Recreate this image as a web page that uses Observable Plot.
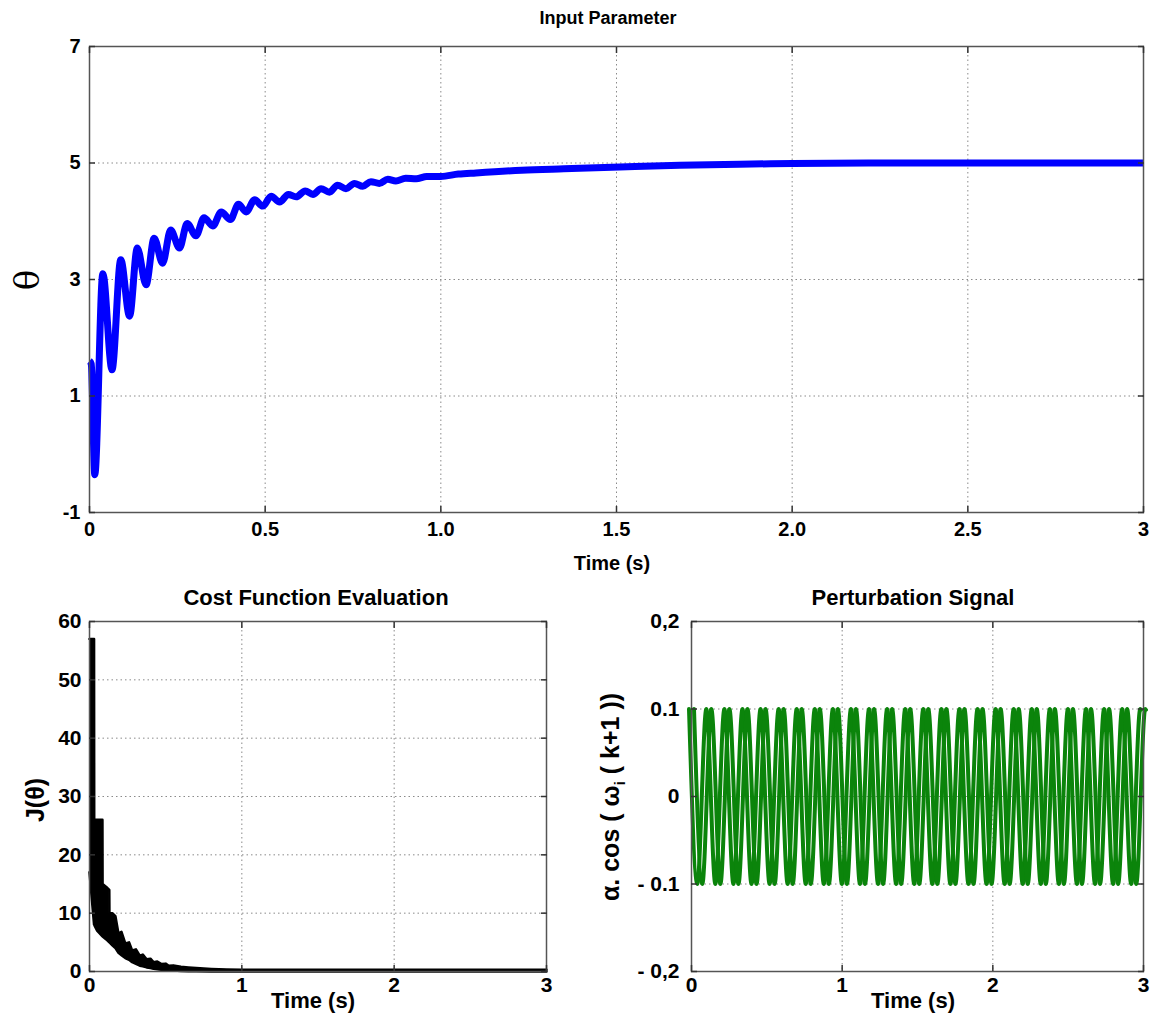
<!DOCTYPE html>
<html><head><meta charset="utf-8">
<script src="https://cdn.jsdelivr.net/npm/d3@7"></script>
<script src="https://cdn.jsdelivr.net/npm/@observablehq/plot@0.6"></script>
<style>
body{margin:0;background:#fff;}
#wrap{position:relative;width:1156px;height:1021px;font-family:"Liberation Sans",Arial,sans-serif;font-weight:bold;color:#000;overflow:hidden;background:#fff;}
.panel{position:absolute;}
.t{position:absolute;transform:translate(-50%,-50%);white-space:nowrap;font-weight:bold;line-height:1;}
.r{transform:translate(-50%,-50%) rotate(-90deg);}
</style></head>
<body><div id="wrap"></div>
<script>
// ---------- Input Parameter (theta) ----------
const thetaT = [0, 0.005, 0.015, 0.038, 0.064, 0.089, 0.114, 0.136, 0.161, 0.184, 0.208, 0.231, 0.256, 0.278, 0.303, 0.326, 0.351, 0.375, 0.401, 0.424, 0.446, 0.470, 0.493, 0.517, 0.541, 0.566, 0.588, 0.614, 0.636, 0.659, 0.683, 0.706, 0.730, 0.754, 0.778, 0.801, 0.825, 0.849, 0.872, 0.90, 0.93, 0.96, 1.00, 1.05, 1.10, 1.23, 1.35, 1.51, 1.68, 1.85, 2.00, 2.30, 2.60, 3.00];
const thetaV = [1.6, 1.55, -0.35, 3.1, 1.45, 3.34, 2.37, 3.54, 2.91, 3.71, 3.28, 3.85, 3.54, 3.96, 3.75, 4.06, 3.92, 4.16, 4.03, 4.29, 4.16, 4.37, 4.26, 4.43, 4.33, 4.46, 4.42, 4.52, 4.46, 4.56, 4.50, 4.62, 4.56, 4.65, 4.60, 4.68, 4.65, 4.72, 4.69, 4.74, 4.73, 4.77, 4.77, 4.81, 4.83, 4.875, 4.90, 4.93, 4.96, 4.98, 4.99, 5.0, 5.0, 5.0];
const topXTicks = [0, 0.5, 1, 1.5, 2, 2.5, 3];
const topXLabels = ["0", "0.5", "1.0", "1.5", "2.0", "2.5", "3"];
const topYTicks = [-1, 1, 3, 5, 7];
const topYLabels = ["-1", "1", "3", "5", "7"];

// ---------- Cost Function Evaluation (envelope of the dense trace) ----------
const costT  = [0, 0.03, 0.031, 0.05, 0.085, 0.086, 0.11, 0.13, 0.131, 0.15, 0.17, 0.19, 0.21, 0.235, 0.26, 0.28, 0.305, 0.33, 0.35, 0.375, 0.4, 0.42, 0.445, 0.47, 0.5, 0.52, 0.55, 0.6, 0.65, 0.7, 0.8, 0.9, 1.0, 1.5, 2.0, 2.5, 3.0];
const costHi = [57, 57, 26, 26, 26, 15, 14.5, 14, 10, 10, 9.5, 6.5, 6.8, 4.8, 5.0, 3.6, 3.8, 2.7, 2.9, 2.1, 2.2, 1.6, 1.7, 1.3, 1.35, 1.0, 1.05, 0.8, 0.7, 0.6, 0.45, 0.35, 0.3, 0.3, 0.3, 0.3, 0.3];
const costLo = [17, 8, 8, 7, 6, 6, 5.5, 5, 5, 4.5, 4, 3.2, 2.8, 2.3, 2.0, 1.6, 1.3, 1.0, 0.9, 0.7, 0.6, 0.45, 0.4, 0.3, 0.25, 0.2, 0.15, 0.1, 0.05, 0.03, 0, 0, 0, 0, 0, 0, 0];
const blXTicks = [0, 1, 2, 3];
const blXLabels = ["0", "1", "2", "3"];
const blYTicks = [0, 10, 20, 30, 40, 50, 60];
const blYLabels = ["0", "10", "20", "30", "40", "50", "60"];

// ---------- Perturbation Signal (extrema of the oscillation) ----------
const pertT = [0, 0.055, 0.115, 0.175, 0.235, 0.295, 0.355, 0.415, 0.475, 0.535, 0.595, 0.655, 0.715, 0.775, 0.835, 0.895, 0.955, 1.015, 1.075, 1.135, 1.195, 1.255, 1.315, 1.375, 1.435, 1.495, 1.555, 1.615, 1.675, 1.735, 1.795, 1.855, 1.915, 1.975, 2.035, 2.095, 2.155, 2.215, 2.275, 2.335, 2.395, 2.455, 2.515, 2.575, 2.635, 2.695, 2.755, 2.815, 2.875, 2.935, 2.995, 3.0];
const pertV = [0.1, -0.1, 0.1, -0.1, 0.1, -0.1, 0.1, -0.1, 0.1, -0.1, 0.1, -0.1, 0.1, -0.1, 0.1, -0.1, 0.1, -0.1, 0.1, -0.1, 0.1, -0.1, 0.1, -0.1, 0.1, -0.1, 0.1, -0.1, 0.1, -0.1, 0.1, -0.1, 0.1, -0.1, 0.1, -0.1, 0.1, -0.1, 0.1, -0.1, 0.1, -0.1, 0.1, -0.1, 0.1, -0.1, 0.1, -0.1, 0.1, -0.1, 0.1, 0.099];
const brXTicks = [0, 1, 2, 3];
const brXLabels = ["0", "1", "2", "3"];
const brYTicks = [-0.2, -0.1, 0, 0.1, 0.2];
const brYLabels = ["- 0,2", "- 0.1", "0", "0.1", "0,2"];

const thetaData = thetaT.map((t, i) => ({t, v: thetaV[i]}));
const costData = costT.map((t, i) => ({t, hi: costHi[i], lo: costLo[i]}));
const pertData = pertT.map((t, i) => ({t, v: pertV[i]}));

const wrap = document.getElementById("wrap");

function panel(o) {
  const xf = new Map(o.xTicks.map((t, i) => [t, o.xLabels[i]]));
  const yf = new Map(o.yTicks.map((t, i) => [t, o.yLabels[i]]));
  const grid = {stroke: "#8a8a8a", strokeOpacity: 1, strokeWidth: 1, strokeDasharray: "1.5,3"};
  const fs = o.fontSize;
  return Plot.plot({
    width: o.width, height: o.height,
    marginLeft: o.ml, marginRight: o.mr, marginTop: o.mt, marginBottom: o.mb,
    style: {fontFamily: "'Liberation Sans', Arial, sans-serif", fontWeight: "bold", fontSize: fs + "px", color: "#000", background: "transparent", overflow: "visible"},
    x: {domain: o.xDomain},
    y: {domain: o.yDomain},
    marks: [
      Plot.gridX(o.xTicks, grid),
      Plot.gridY(o.yTicks, grid),
      ...o.marks,
      Plot.frame({stroke: "#555", strokeWidth: 1.5}),
      Plot.axisX(o.xTicks, {anchor: "bottom", tickSize: 0, tickPadding: o.xPad, tickFormat: d => xf.get(d), label: null, fontSize: fs, fontWeight: "bold"}),
      Plot.axisY(o.yTicks, {anchor: "left", tickSize: 0, tickPadding: o.yPad, tickFormat: d => yf.get(d), label: null, fontSize: fs, fontWeight: "bold"}),
      Plot.axisX(o.xTicks, {anchor: "bottom", tickSize: -6, tickFormat: () => "", label: null, stroke: "#333", strokeWidth: 1.5}),
      Plot.axisX(o.xTicks, {anchor: "top", tickSize: -6, tickFormat: () => "", label: null, stroke: "#333", strokeWidth: 1.5}),
      Plot.axisY(o.yTicks, {anchor: "left", tickSize: -6, tickFormat: () => "", label: null, stroke: "#333", strokeWidth: 1.5}),
      Plot.axisY(o.yTicks, {anchor: "right", tickSize: -6, tickFormat: () => "", label: null, stroke: "#333", strokeWidth: 1.5})
    ]
  });
}

function place(node, left, top) {
  const d = document.createElement("div");
  d.className = "panel";
  d.style.left = left + "px";
  d.style.top = top + "px";
  d.appendChild(node);
  wrap.appendChild(d);
}
function label(html, x, y, size, extra) {
  const d = document.createElement("div");
  d.className = "t" + (extra && extra.rot ? " r" : "");
  d.style.left = x + "px";
  d.style.top = y + "px";
  d.style.fontSize = size + "px";
  if (extra && extra.family) d.style.fontFamily = extra.family;
  if (extra && extra.weight) d.style.fontWeight = extra.weight;
  d.innerHTML = html;
  wrap.appendChild(d);
}

// Top panel
place(panel({
  width: 1156, height: 545, ml: 89, mr: 13, mt: 46, mb: 33,
  xDomain: [0, 3], yDomain: [-1, 7],
  xTicks: topXTicks, xLabels: topXLabels, yTicks: topYTicks, yLabels: topYLabels,
  fontSize: 20, xPad: 9, yPad: 9,
  marks: [
    Plot.line(thetaData, {x: "t", y: "v", stroke: "#0000ff", strokeWidth: 7, curve: "monotone-x", strokeLinejoin: "round", strokeLinecap: "butt"})
  ]
}), 0, 0);

// Bottom-left panel
place(panel({
  width: 578, height: 420, ml: 89, mr: 32, mt: 41, mb: 29,
  xDomain: [0, 3], yDomain: [0, 60],
  xTicks: blXTicks, xLabels: blXLabels, yTicks: blYTicks, yLabels: blYLabels,
  fontSize: 21, xPad: 6, yPad: 8,
  marks: [
    Plot.areaY(costData, {x: "t", y1: "lo", y2: "hi", fill: "#000"}),
    Plot.line(costData, {x: "t", y: "hi", stroke: "#000", strokeWidth: 2.5}),
    Plot.line(costData, {x: "t", y: "lo", stroke: "#000", strokeWidth: 2.5})
  ]
}), 0, 580);

// Bottom-right panel
place(panel({
  width: 578, height: 420, ml: 113, mr: 13, mt: 41, mb: 29,
  xDomain: [0, 3], yDomain: [-0.2, 0.2],
  xTicks: brXTicks, xLabels: brXLabels, yTicks: brYTicks, yLabels: brYLabels,
  fontSize: 21, xPad: 6, yPad: 12,
  marks: [
    Plot.line(pertData, {x: "t", y: "v", stroke: "#0b840b", strokeWidth: 4, curve: "monotone-x", dx: -2.5}),
    Plot.line(pertData, {x: "t", y: "v", stroke: "#0b840b", strokeWidth: 4, curve: "monotone-x", dx: 2.5})
  ]
}), 578, 580);

// Titles and axis labels
label("Input Parameter", 608, 18, 18);
label("Time (s)", 612, 563, 20);
label("θ", 27, 280, 34, {rot: true, family: "'DejaVu Serif', 'Liberation Serif', serif", weight: "normal"});
label("Cost Function Evaluation", 316, 598, 22);
label("Time (s)", 313, 1001, 22);
label("J(θ)", 35, 800, 25, {rot: true});
label("Perturbation Signal", 913, 598, 22);
label("Time (s)", 913, 1001, 22);
label("α. cos ( ω<sub style='font-size:0.6em'>i</sub> ( k+1 ))", 612, 797, 25, {rot: true});
</script>
</body></html>
